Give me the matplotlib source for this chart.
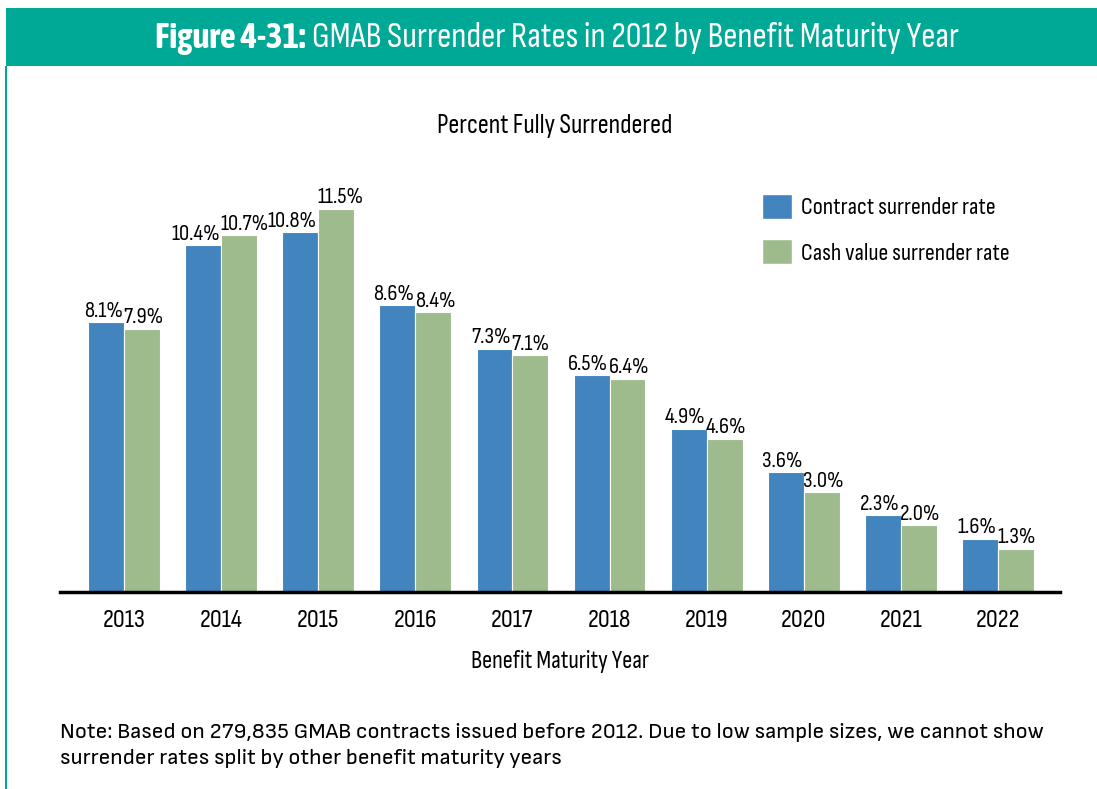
import matplotlib
matplotlib.use('Agg')
import matplotlib.pyplot as plt
import numpy as np
from matplotlib.patches import Rectangle, Patch

plt.rcParams['font.family'] = ['Sofia Sans Condensed', 'DejaVu Sans']

years = ['2013', '2014', '2015', '2016', '2017', '2018', '2019', '2020', '2021', '2022']
contract_rate = [8.1, 10.4, 10.8, 8.6, 7.3, 6.5, 4.9, 3.6, 2.3, 1.6]
cash_value_rate = [7.9, 10.7, 11.5, 8.4, 7.1, 6.4, 4.6, 3.0, 2.0, 1.3]

series_names = ['Contract surrender rate', 'Cash value surrender rate']
note_lines = ['Note: Based on 279,835 GMAB contracts issued before 2012. Due to low sample sizes, we cannot show',
              'surrender rates split by other benefit maturity years']
blue = '#4285be'
green = '#9ebb8e'
teal = '#00a896'

W, H = 1097, 789
fig = plt.figure(figsize=(W / 100, H / 100), dpi=100)

# header band and left rule
fig.patches.append(Rectangle((6 / W, 1 - 66 / H), 1 - 6 / W, 58 / H,
                             transform=fig.transFigure, facecolor=teal, edgecolor='none'))
fig.patches.append(Rectangle((5 / W, 0), 1.5 / W, 1 - 66 / H,
                             transform=fig.transFigure, facecolor=teal, edgecolor='none'))

t1 = fig.text(155 / W, 1 - 38 / H, 'Figure 4-31:', color='white', fontsize=25.4,
              fontweight='bold', family=['Asap Condensed', 'DejaVu Sans'],
              ha='left', va='center')
r = fig.canvas.get_renderer()
x1 = t1.get_window_extent(r).x1
fig.text((x1 + 7) / W, 1 - 38 / H, 'GMAB Surrender Rates in 2012 by Benefit Maturity Year',
         color='white', fontsize=25.4, ha='left', va='center')

ax = fig.add_axes([60 / W, 197 / H, 1000 / W, 400 / H])

x = np.arange(len(years))
bw = 0.37
ax.bar(x - bw / 2, contract_rate, bw, color=blue, edgecolor='white', linewidth=0.8)
ax.bar(x + bw / 2, cash_value_rate, bw, color=green, edgecolor='white', linewidth=0.8)

for xi, v in zip(x, contract_rate):
    ax.annotate(f'{v:.1f}%', (xi, v), xytext=(-1, 1), textcoords='offset points',
                ha='right', va='bottom', fontsize=16.5)
for xi, v in zip(x, cash_value_rate):
    ax.annotate(f'{v:.1f}%', (xi, v), xytext=(-0.5, 1), textcoords='offset points',
                ha='left', va='bottom', fontsize=16.5)

ax.set_xlim(-0.66, len(years) - 1 + 0.64)
ax.set_ylim(0, 12)
ax.set_xticks(x)
ax.set_xticklabels(years, fontsize=19)
ax.set_yticks([])
ax.tick_params(axis='x', length=0, pad=12)
for s in ['top', 'right', 'left']:
    ax.spines[s].set_visible(False)
ax.spines['bottom'].set_linewidth(2.5)
ax.set_xlabel('Benefit Maturity Year', fontsize=18, labelpad=13)

fig.text(555 / W, 1 - 126 / H, 'Percent Fully Surrendered', fontsize=19.5,
         ha='center', va='center')

handles = [Patch(facecolor=blue, edgecolor='white'), Patch(facecolor=green, edgecolor='white')]
fig.legend(handles, series_names, loc='upper left', bbox_to_anchor=(752 / W, 1 - 184 / H),
           frameon=False, fontsize=17.5, handlelength=1.25, handleheight=1.2,
           labelspacing=0.85, handletextpad=0.35, borderaxespad=0)

for i, line in enumerate(note_lines):
    fig.text(60 / W, 1 - (732 + 26 * i) / H, line, fontsize=16.2,
             family=['Sofia Sans', 'Lato', 'DejaVu Sans'], ha='left', va='center')

fig.savefig('out.png', dpi=100)
